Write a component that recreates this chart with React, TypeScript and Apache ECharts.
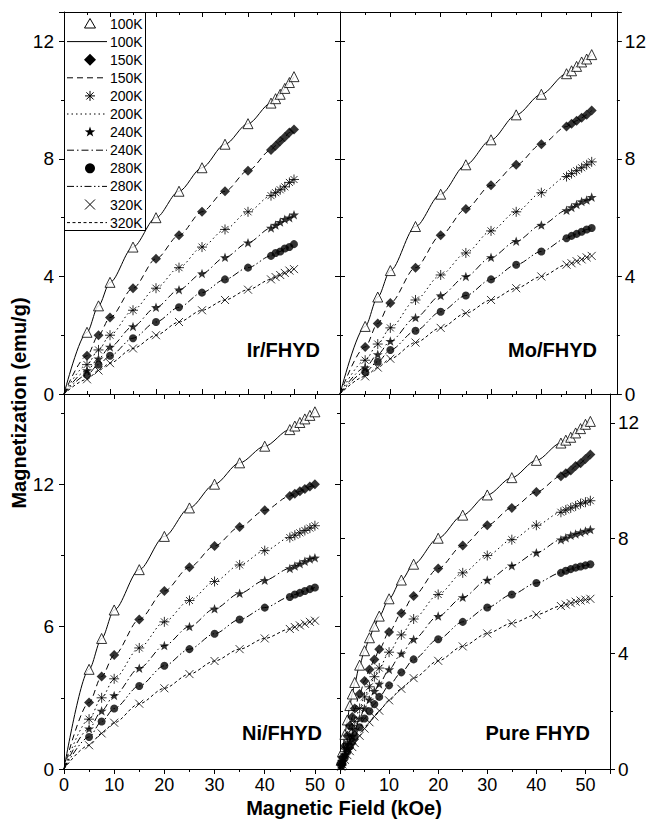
import { useEffect, useRef } from 'react';
import * as echarts from 'echarts';

// ---- data -------------------------------------------------------------
const TEMPS = ['100K', '150K', '200K', '240K', '280K', '320K'];
const SAMPLES = ['Ir/FHYD', 'Mo/FHYD', 'Ni/FHYD', 'Pure FHYD'];

// applied field (kOe)
const FIELD = [5, 7.5, 10, 15, 20, 25, 30, 35, 40, 45, 46, 47, 48, 49, 50];
const FIELD_PURE = [0.25, 0.5, 1, 1.5, 2, 2.5, 3, 4, 5, 6, 7, 8, 10, 12.5, 15, 20, 25, 30, 35, 40, 45, 46, 47, 48, 49, 50, 51];

// magnetization (emu/g), one row per temperature
const M_IR = [
  [2.1, 3.0, 3.8, 5.0, 6.0, 6.9, 7.7, 8.5, 9.2, 9.9, 10.05, 10.2, 10.4, 10.6, 10.8],
  [1.3, 2.0, 2.6, 3.6, 4.6, 5.4, 6.2, 6.9, 7.6, 8.3, 8.45, 8.6, 8.75, 8.9, 9.0],
  [1.0, 1.5, 2.0, 2.85, 3.6, 4.3, 5.0, 5.6, 6.2, 6.75, 6.85, 6.95, 7.05, 7.2, 7.3],
  [0.8, 1.2, 1.6, 2.3, 2.95, 3.55, 4.1, 4.65, 5.15, 5.65, 5.75, 5.85, 5.95, 6.0, 6.1],
  [0.65, 1.0, 1.3, 1.9, 2.45, 2.95, 3.45, 3.9, 4.3, 4.7, 4.8, 4.85, 4.95, 5.0, 5.1],
  [0.5, 0.8, 1.05, 1.55, 2.0, 2.45, 2.85, 3.2, 3.55, 3.9, 3.98, 4.05, 4.12, 4.2, 4.25],
];
const M_MO = [
  [2.3, 3.3, 4.2, 5.7, 6.8, 7.8, 8.65, 9.5, 10.2, 10.9, 11.0, 11.15, 11.3, 11.4, 11.55],
  [1.6, 2.4, 3.1, 4.3, 5.4, 6.3, 7.1, 7.8, 8.5, 9.1, 9.2, 9.3, 9.4, 9.5, 9.65],
  [1.15, 1.7, 2.25, 3.2, 4.05, 4.8, 5.55, 6.2, 6.85, 7.4, 7.5, 7.6, 7.7, 7.8, 7.9],
  [0.9, 1.35, 1.8, 2.6, 3.35, 4.0, 4.65, 5.2, 5.75, 6.25, 6.35, 6.45, 6.55, 6.6, 6.7],
  [0.75, 1.1, 1.5, 2.15, 2.8, 3.35, 3.9, 4.4, 4.85, 5.3, 5.38, 5.45, 5.52, 5.6, 5.65],
  [0.6, 0.9, 1.2, 1.75, 2.25, 2.75, 3.2, 3.6, 4.0, 4.4, 4.45, 4.52, 4.58, 4.65, 4.7],
];
const M_NI = [
  [4.2, 5.5, 6.7, 8.4, 9.8, 11.0, 12.0, 12.9, 13.6, 14.3, 14.45, 14.6, 14.75, 14.9, 15.05],
  [2.8, 3.9, 4.8, 6.3, 7.5, 8.5, 9.4, 10.2, 10.9, 11.5, 11.6, 11.7, 11.8, 11.9, 12.0],
  [2.1, 3.0, 3.8, 5.1, 6.2, 7.1, 7.9, 8.6, 9.2, 9.75, 9.85, 9.95, 10.05, 10.15, 10.25],
  [1.7, 2.45, 3.1, 4.25, 5.2, 6.0, 6.75, 7.4, 7.95, 8.45, 8.55, 8.65, 8.75, 8.85, 8.9],
  [1.35, 2.0, 2.55, 3.5, 4.35, 5.05, 5.7, 6.3, 6.8, 7.25, 7.35, 7.42, 7.5, 7.58, 7.65],
  [1.0, 1.5, 1.95, 2.75, 3.4, 4.0, 4.55, 5.05, 5.5, 5.9, 5.98, 6.05, 6.12, 6.2, 6.25],
];
const M_PURE = [
  [0.3, 0.6, 1.2, 1.7, 2.2, 2.6, 3.0, 3.6, 4.1, 4.55, 4.95, 5.3, 5.9, 6.55, 7.1, 8.0, 8.8, 9.5, 10.1, 10.7, 11.3, 11.4, 11.5, 11.65, 11.8, 11.95, 12.05],
  [0.2, 0.4, 0.8, 1.15, 1.5, 1.8, 2.1, 2.6, 3.05, 3.45, 3.8, 4.15, 4.75, 5.4, 6.0, 6.95, 7.75, 8.45, 9.05, 9.6, 10.15, 10.25, 10.35, 10.5, 10.6, 10.75, 10.9],
  [0.15, 0.3, 0.6, 0.88, 1.15, 1.4, 1.65, 2.1, 2.5, 2.85, 3.2, 3.5, 4.05, 4.65, 5.2, 6.05, 6.8, 7.4, 7.95, 8.45, 8.9, 8.98, 9.05, 9.12, 9.2, 9.25, 9.3],
  [0.12, 0.25, 0.5, 0.72, 0.95, 1.15, 1.35, 1.75, 2.1, 2.4, 2.7, 2.95, 3.45, 4.0, 4.5, 5.3, 5.95, 6.55, 7.05, 7.5, 7.95, 8.02, 8.1, 8.15, 8.2, 8.25, 8.3],
  [0.1, 0.2, 0.4, 0.6, 0.78, 0.95, 1.12, 1.45, 1.75, 2.0, 2.25, 2.5, 2.9, 3.35, 3.8, 4.5, 5.1, 5.6, 6.05, 6.45, 6.8, 6.87, 6.93, 6.98, 7.02, 7.06, 7.1],
  [0.08, 0.16, 0.32, 0.48, 0.62, 0.76, 0.9, 1.15, 1.4, 1.62, 1.82, 2.02, 2.38, 2.78, 3.15, 3.75, 4.25, 4.7, 5.05, 5.35, 5.65, 5.7, 5.75, 5.8, 5.84, 5.87, 5.9],
];

const FIELDS = [FIELD, FIELD, FIELD, FIELD_PURE];
const VALUES = [M_IR, M_MO, M_NI, M_PURE];

// axis ranges per panel
const X_MAX = [60, 55, 55, 55];
const Y_MAX = [13, 13, 15.8, 13];
const Y_STEP = [4, 4, 6, 4];
const X_STEP = 10;

// ---- layout & styles --------------------------------------------------
const FONT = '"Liberation Sans", Arial, Helvetica, sans-serif';
const INK = '#000';

const GRIDS = [
  { left: 64, top: 12, width: 276, height: 382 },
  { left: 340, top: 12, width: 279, height: 382 },
  { left: 64, top: 394, width: 276, height: 375 },
  { left: 340, top: 394, width: 270, height: 375 },
];
const LABEL_SIDE = ['left', 'right', 'left', 'right'];
const SHOW_X_LABELS = [false, false, true, true];
const TAG_POS = [[320, 350], [597, 350], [322, 733], [590, 733]];

const ASTERISK = 'path://M5,0L5,10M0,5L10,5M1.5,1.5L8.5,8.5M1.5,8.5L8.5,1.5';
const CROSS = 'path://M0,0L10,10M0,10L10,0';
const STAR = 'path://M5,0L6.18,3.38L9.76,3.45L6.9,5.62L7.94,9.05L5,7L2.06,9.05L3.1,5.62L0.24,3.45L3.82,3.38Z';

const SYMBOLS = ['triangle', 'diamond', ASTERISK, STAR, 'circle', CROSS];
const SYMBOL_SIZES = [10, 10, 10, 10, 8, 8];
const MARKER_STYLES = [
  { color: '#fff', borderColor: INK, borderWidth: 1 },
  { color: INK },
  { color: 'transparent', borderColor: INK, borderWidth: 1 },
  { color: INK },
  { color: INK },
  { color: 'transparent', borderColor: INK, borderWidth: 1 },
];
const DASHES: (string | number[])[] = [
  'solid',
  [6, 4],
  [1.5, 3],
  [7, 3, 1.5, 3],
  [7, 2.5, 1.5, 2.5, 1.5, 2.5],
  [3, 2.5],
];

function tickFormatter(step: number) {
  return (v: number) => (Math.abs(v / step - Math.round(v / step)) < 1e-6 ? String(Math.round(v * 100) / 100) : '');
}

function starPoints(cx: number, cy: number, R: number, r: number) {
  const pts: number[][] = [];
  for (let i = 0; i < 10; i++) {
    const a = -Math.PI / 2 + (i * Math.PI) / 5;
    const rad = i % 2 === 0 ? R : r;
    pts.push([cx + rad * Math.cos(a), cy + rad * Math.sin(a)]);
  }
  return pts;
}

function legendMarker(k: number, cx: number, cy: number): any[] {
  const stroke = { stroke: INK, lineWidth: 1 };
  switch (k) {
    case 0:
      return [{ type: 'polygon', shape: { points: [[cx, cy - 5], [cx + 5.5, cy + 4.5], [cx - 5.5, cy + 4.5]] }, style: { fill: '#fff', ...stroke } }];
    case 1:
      return [{ type: 'polygon', shape: { points: [[cx, cy - 6], [cx + 6, cy], [cx, cy + 6], [cx - 6, cy]] }, style: { fill: INK } }];
    case 2:
      return [
        { type: 'line', shape: { x1: cx, y1: cy - 5, x2: cx, y2: cy + 5 }, style: stroke },
        { type: 'line', shape: { x1: cx - 5, y1: cy, x2: cx + 5, y2: cy }, style: stroke },
        { type: 'line', shape: { x1: cx - 3.6, y1: cy - 3.6, x2: cx + 3.6, y2: cy + 3.6 }, style: stroke },
        { type: 'line', shape: { x1: cx - 3.6, y1: cy + 3.6, x2: cx + 3.6, y2: cy - 3.6 }, style: stroke },
      ];
    case 3:
      return [{ type: 'polygon', shape: { points: starPoints(cx, cy, 5.5, 2.2) }, style: { fill: INK } }];
    case 4:
      return [{ type: 'circle', shape: { cx, cy, r: 5 }, style: { fill: INK } }];
    default:
      return [
        { type: 'line', shape: { x1: cx - 5, y1: cy - 5, x2: cx + 5, y2: cy + 5 }, style: stroke },
        { type: 'line', shape: { x1: cx - 5, y1: cy + 5, x2: cx + 5, y2: cy - 5 }, style: stroke },
      ];
  }
}

function buildOption() {
  const xAxis: any[] = [];
  const yAxis: any[] = [];
  const series: any[] = [];
  const axisLine = { show: true, onZero: false, lineStyle: { color: INK, width: 1 } };
  const labelStyle = { color: INK, fontFamily: FONT, fontSize: 18 };

  GRIDS.forEach((_, i) => {
    const showX = SHOW_X_LABELS[i];
    ['bottom', 'top'].forEach((pos) => {
      const labelled = pos === 'bottom' && showX;
      xAxis.push({
        gridIndex: i,
        type: 'value',
        position: pos,
        min: 0,
        max: X_MAX[i],
        interval: X_STEP,
        axisLine,
        axisTick: { show: true, inside: !labelled, length: 5, lineStyle: { color: INK } },
        minorTick: { show: true, splitNumber: 2, length: 3, lineStyle: { color: INK } },
        splitLine: { show: false },
        minorSplitLine: { show: false },
        axisLabel: { show: labelled, margin: 7, formatter: tickFormatter(X_STEP), ...labelStyle },
      });
    });
    ['left', 'right'].forEach((pos) => {
      const labelled = LABEL_SIDE[i] === pos;
      yAxis.push({
        gridIndex: i,
        type: 'value',
        position: pos,
        min: 0,
        max: Y_MAX[i],
        interval: Y_STEP[i],
        axisLine,
        axisTick: { show: true, inside: !labelled, length: 5, lineStyle: { color: INK } },
        minorTick: { show: true, splitNumber: 2, length: 3, lineStyle: { color: INK } },
        splitLine: { show: false },
        minorSplitLine: { show: false },
        axisLabel: { show: labelled, margin: pos === 'left' ? 10 : 8, formatter: tickFormatter(Y_STEP[i]), ...labelStyle, fontSize: 19 },
      });
    });

    const field = FIELDS[i];
    VALUES[i].forEach((row, k) => {
      const points = field.map((h, j) => [h, row[j]]);
      series.push({
        type: 'line',
        name: TEMPS[k],
        xAxisIndex: 2 * i,
        yAxisIndex: 2 * i,
        data: [[0, 0], ...points],
        showSymbol: false,
        symbol: 'none',
        smooth: 0.3,
        smoothMonotone: 'x',
        lineStyle: { color: INK, width: 1, type: DASHES[k] },
        silent: true,
        z: 2,
      });
      series.push({
        type: 'scatter',
        name: TEMPS[k],
        xAxisIndex: 2 * i,
        yAxisIndex: 2 * i,
        data: points,
        symbol: SYMBOLS[k],
        symbolSize: SYMBOL_SIZES[k],
        symbolKeepAspect: true,
        itemStyle: MARKER_STYLES[k],
        silent: true,
        z: 3,
      });
    });
  });

  // legend box drawn inside the Ir/FHYD panel
  const legend: any[] = [
    { type: 'rect', shape: { x: 64.5, y: 12.5, width: 81, height: 218 }, style: { fill: '#fff', stroke: INK, lineWidth: 1 } },
  ];
  const rowY0 = 23.5;
  const rowStep = 18.1;
  TEMPS.forEach((t, k) => {
    const yM = rowY0 + rowStep * (2 * k);
    const yL = rowY0 + rowStep * (2 * k + 1);
    legend.push(...legendMarker(k, 90, yM));
    legend.push({
      type: 'line',
      shape: { x1: 67, y1: yL, x2: 107, y2: yL },
      style: { stroke: INK, lineWidth: 1, lineDash: DASHES[k] === 'solid' ? null : DASHES[k] },
    });
    [yM, yL].forEach((y) =>
      legend.push({
        type: 'text',
        x: 110,
        y,
        style: { text: t, fill: INK, font: `14px ${FONT}`, textAlign: 'left', textVerticalAlign: 'middle' },
      })
    );
  });

  const tags = SAMPLES.map((s, i) => ({
    type: 'text',
    x: TAG_POS[i][0],
    y: TAG_POS[i][1],
    style: { text: s, fill: INK, font: `bold 20px ${FONT}`, textAlign: 'right', textVerticalAlign: 'middle' },
  }));

  const titles = [
    {
      type: 'text',
      x: 19,
      y: 403,
      rotation: Math.PI / 2,
      style: { text: 'Magnetization (emu/g)', fill: INK, font: `bold 20px ${FONT}`, textAlign: 'center', textVerticalAlign: 'middle' },
    },
    {
      type: 'text',
      x: 344,
      y: 808,
      style: { text: 'Magnetic Field (kOe)', fill: INK, font: `bold 20px ${FONT}`, textAlign: 'center', textVerticalAlign: 'middle' },
    },
  ];

  return {
    animation: false,
    backgroundColor: '#fff',
    grid: GRIDS.map((g) => ({ ...g, containLabel: false })),
    xAxis,
    yAxis,
    series,
    graphic: { elements: [{ type: 'group', z: 100, children: [...legend, ...tags, ...titles] }] },
  };
}

export default function App() {
  const ref = useRef<HTMLDivElement>(null);
  useEffect(() => {
    document.body.style.margin = '0';
    const chart = echarts.init(ref.current as HTMLDivElement, null, { renderer: 'svg' });
    chart.setOption(buildOption() as any);
    return () => chart.dispose();
  }, []);
  return <div ref={ref} style={{ width: 649, height: 823, position: 'absolute', left: 0, top: 0 }} />;
}
